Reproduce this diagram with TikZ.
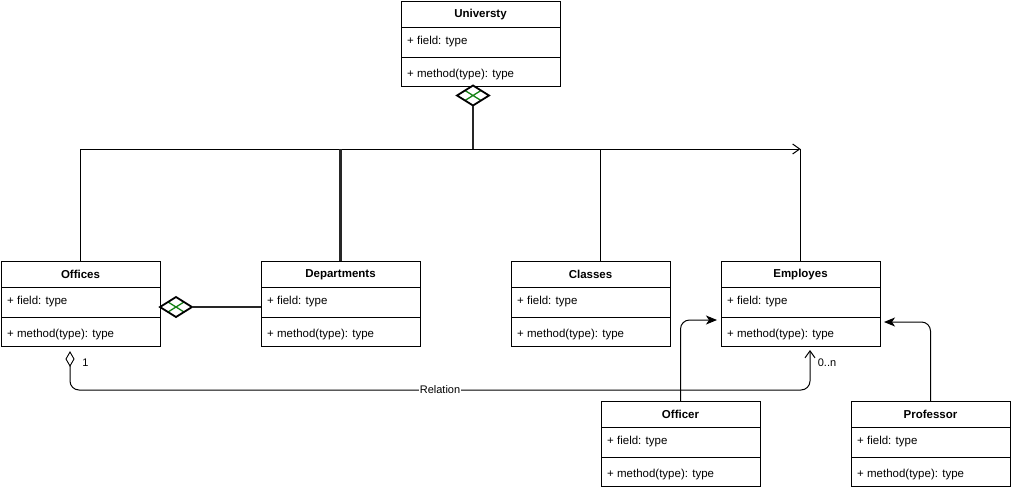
\documentclass[tikz,border=0pt]{standalone}
\usepackage{fontspec}
\setmainfont{Liberation Sans}
\usetikzlibrary{arrows.meta,shapes.geometric,calc}
\definecolor{hatch}{RGB}{20,130,20}
\newcommand\umlclass[4]{%
  \node[box, anchor=north west] (#1) at (#2,#3) {};
  \draw[line width=1pt] ([yshift=-26pt]#1.north west) -- ([yshift=-26pt]#1.north east);
  \draw[line width=1pt] ([yshift=-56pt]#1.north west) -- ([yshift=-56pt]#1.north east);
  \node[ttl] (#1-t) at ([yshift=-13.5pt]#1.north) {#4};
  \node[txt] (#1-f) at ([xshift=6pt,yshift=-40.5pt]#1.north west) {+ field: type};
  \node[txt] (#1-m) at ([xshift=6pt,yshift=-73.5pt]#1.north west) {+ method(type): type};
}
\tikzset{
  box/.style={draw, line width=1pt, minimum width=159pt, minimum height=85pt, inner sep=0pt, outer sep=0pt, fill=white},
  ttl/.style={font=\fontsize{11.5}{13}\selectfont\bfseries, inner sep=0pt},
  txt/.style={anchor=west, inner sep=0pt, font=\fontsize{11.5}{13}\selectfont},
  lbl/.style={inner sep=0pt, font=\fontsize{11}{13}\selectfont},
  conn/.style={line width=1pt},
  comp/.style={line width=2.2pt, draw=black!85},
  cdia/.style={diamond, draw, line width=1.8pt, fill=white, minimum width=32pt, minimum height=20pt, inner sep=0pt, outer sep=0pt,
    path picture={\draw[hatch, line width=1.3pt]
      ($(path picture bounding box.north)!0.5!(path picture bounding box.west)$) -- ($(path picture bounding box.south)!0.5!(path picture bounding box.east)$)
      ($(path picture bounding box.north)!0.5!(path picture bounding box.east)$) -- ($(path picture bounding box.south)!0.5!(path picture bounding box.west)$);}},
  odia/.style={diamond, draw, line width=0.9pt, fill=white, minimum width=8pt, minimum height=14pt, inner sep=0pt, outer sep=0pt},
  open/.style={-{Straight Barb[length=7pt,width=10pt,line width=1pt]}},
  filled/.style={-{Stealth[length=11pt,width=9pt,inset=3pt]}},
}
\begin{document}
\begin{tikzpicture}[x=1pt,y=-1pt]
\useasboundingbox (0,0) rectangle (1011,490);
\umlclass{uni}{401}{1}{Universty}
\umlclass{off}{1}{261}{Offices}
\umlclass{dep}{261}{261}{Departments}
\umlclass{cls}{511}{261}{Classes}
\umlclass{emp}{721}{261}{Employes}
\umlclass{ofc}{601}{401}{Officer}
\umlclass{pro}{851}{401}{Professor}
% University composition tree
\coordinate (bus) at (473,149);
\coordinate (busE) at (800.5,149);
\node[cdia, anchor=north] (d1) at (473,85.5) {};
\draw[comp] (d1.south) -- (bus);
\draw[conn, open] (off.north) |- (busE);
\draw[conn] (emp.north) -- (busE);
\draw[comp] (dep.north) -- (dep.north |- bus);
\draw[conn] ([xshift=9.5pt]cls.north) -- ([xshift=9.5pt]cls.north |- bus);
% Offices - Departments composition
\node[cdia, anchor=west] (d2) at (160,307) {};
\draw[comp] (d2.east) -- (d2.east -| dep.west);
% Relation
\node[odia, anchor=north] (d3) at (70,352) {};
\coordinate (rEnd) at (810,350);
\draw[conn, open, rounded corners=9pt] (d3.south) |- (rEnd |- 0,390) -- (rEnd);
\node[lbl, fill=white, inner xsep=1pt] (rel) at (440,390) {Relation};
\node[lbl] (m1) at (85.5,363) {1};
\node[lbl] (mn) at (827,363) {0..n};
% Generalisations
\coordinate (a1) at (717,320);
\coordinate (a2) at (884,322);
\draw[conn, filled, rounded corners=9pt] (ofc.north) |- (a1);
\draw[conn, filled, rounded corners=9pt] (pro.north) |- (a2);
\end{tikzpicture}
\end{document}
